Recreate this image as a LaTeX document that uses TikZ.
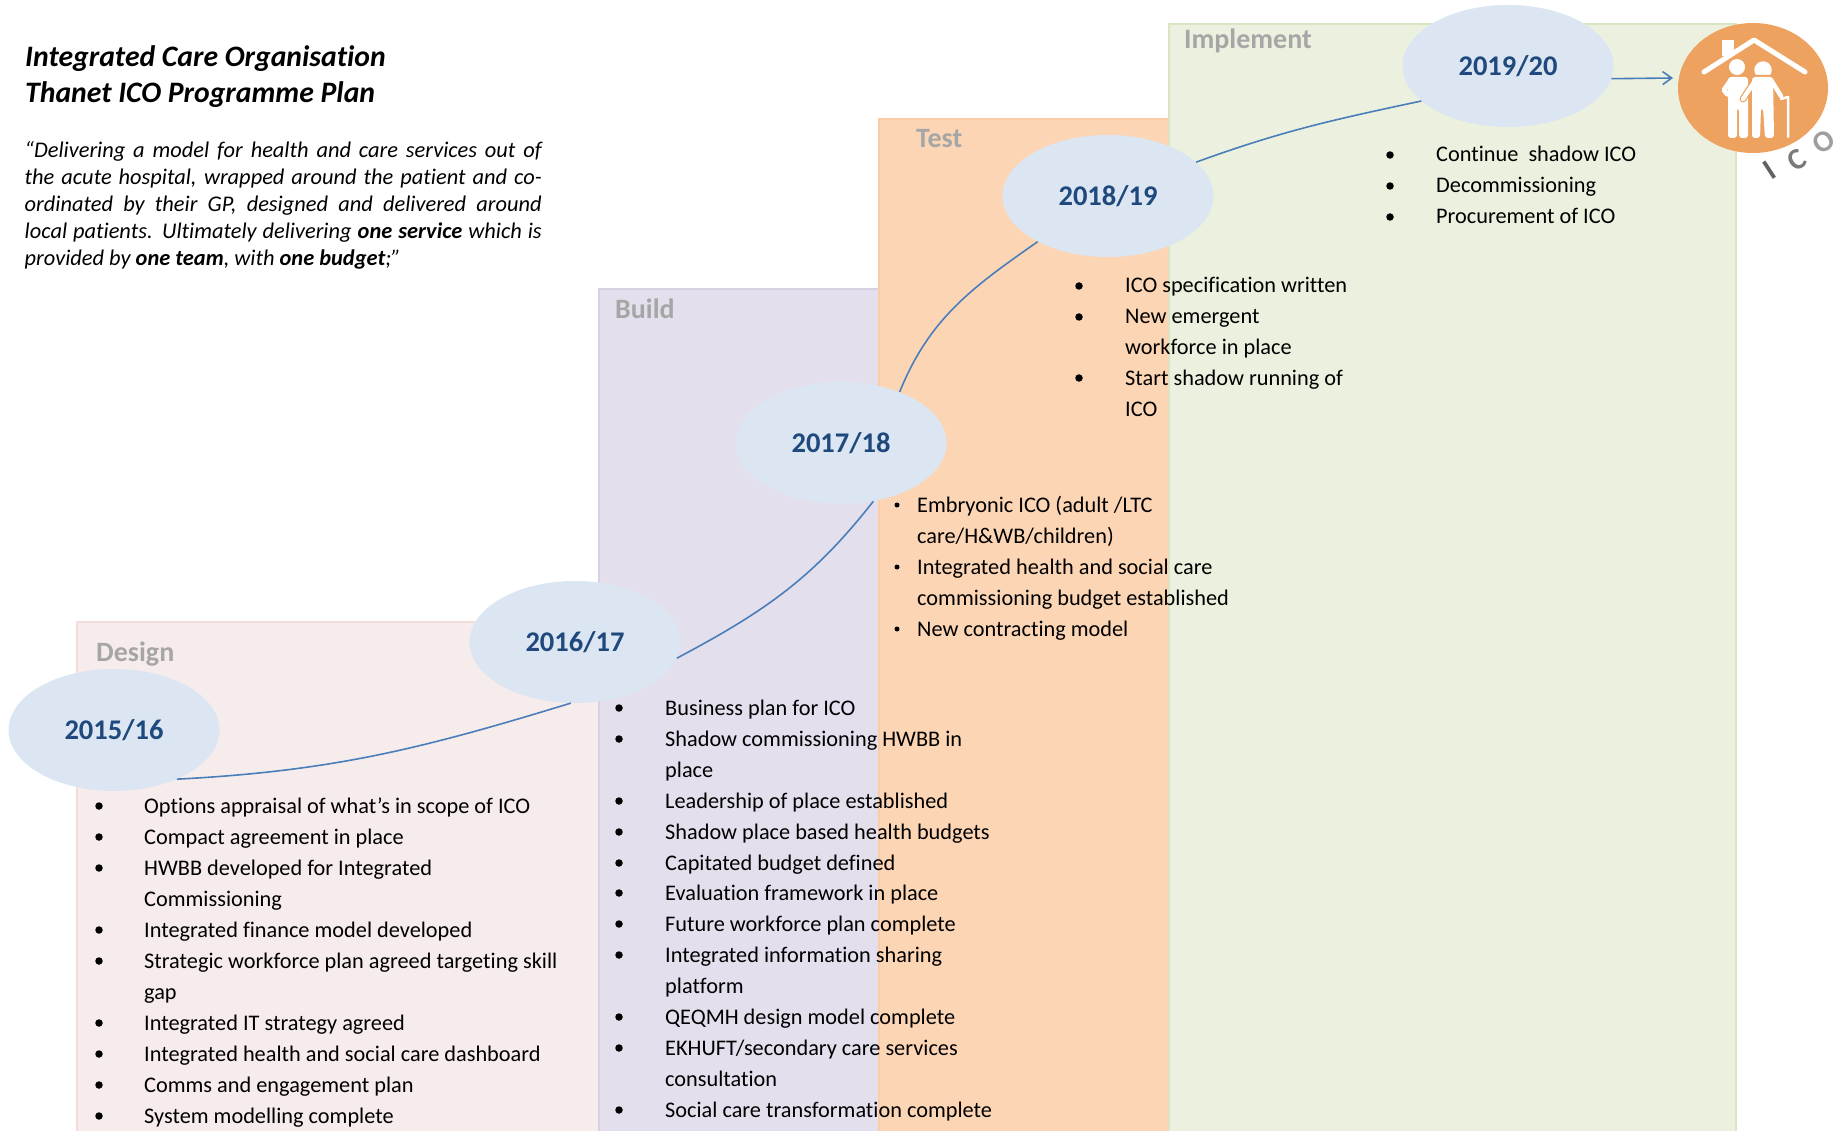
\documentclass[tikz,border=0pt]{standalone}
\usepackage{fontspec}
\setmainfont{Carlito}[Ligatures=CommonOff]
\usetikzlibrary{shapes.geometric,arrows.meta}
\definecolor{designfill}{HTML}{F6ECEB}\definecolor{designline}{HTML}{F2DDDB}
\definecolor{buildfill}{HTML}{E4DFEC}\definecolor{buildline}{HTML}{D8D0E3}
\definecolor{testfill}{HTML}{FCD5B5}\definecolor{testline}{HTML}{F9CDA8}
\definecolor{implfill}{HTML}{EBF1DE}\definecolor{implline}{HTML}{D9E6C3}
\definecolor{yearfill}{HTML}{DCE6F2}\definecolor{yeartext}{HTML}{1F497D}
\definecolor{conn}{HTML}{4A7EBB}\definecolor{icofill}{HTML}{EEA25F}
\definecolor{phase}{HTML}{A6A6A6}
\tikzset{
  x=1pt,y=-1pt,
  phasebox/.style={line width=2.5pt},
  phaselabel/.style={anchor=base west,inner sep=0,text=phase,font=\fontsize{28}{32}\selectfont\bfseries},
  year/.style={ellipse,fill=yearfill,minimum width=211pt,minimum height=122pt,inner sep=0,text=yeartext,font=\fontsize{28.5}{32}\selectfont\bfseries},
  link/.style={conn,line width=1.6pt},
  itemtext/.style={anchor=base west,inner sep=0,font=\fontsize{22.3}{26}\selectfont},
  bigdot/.style={circle,fill=black,inner sep=0,minimum size=7.5pt},
  smalldot/.style={circle,fill=black,inner sep=0,minimum size=5pt},
  icoletter/.style={inner sep=0,rotate=33,font=\fontsize{30}{34}\selectfont\bfseries},
  icon/.style={white,line cap=round,line join=round},
  iconcase/.style={icofill,line cap=round,line join=round},
}
% \bitem{name}{dotstyle}{dotx}{textx}{baseline}{text}
\newcommand{\bitem}[6]{\node[#2] (#1b) at (#3,#5-7) {};\node[itemtext] (#1) at (#4,#5) {#6};}
\newcommand{\citem}[3]{\node[itemtext] (#1) at (#2) {#3};}
\begin{document}
\begin{tikzpicture}
\useasboundingbox (0,0) rectangle (1839,1131);
\clip (0,0) rectangle (1839,1131);
\fill[white] (0,0) rectangle (1839,1131);
% phase boxes
\draw[phasebox,fill=designfill,draw=designline] (77,622) rectangle (599,1140);
\draw[phasebox,fill=buildfill,draw=buildline] (599,289) rectangle (879,1140);
\draw[phasebox,fill=testfill,draw=testline] (879,119) rectangle (1169,1140);
\draw[phasebox,fill=implfill,draw=implline] (1169,24) rectangle (1736,1140);
\node[phaselabel] (pd) at (96,661) {Design};
\node[phaselabel] (pb) at (615,319) {Build};
\node[phaselabel] (pt) at (916,148) {Test};
\node[phaselabel] (pi) at (1184,49) {Implement};
% title
\node[anchor=base west,inner sep=0,font=\fontsize{29.7}{36}\selectfont\bfseries\itshape] (t1) at (25,67) {Integrated Care Organisation};
\node[anchor=base west,inner sep=0,font=\fontsize{29.7}{36}\selectfont\bfseries\itshape] (t2) at (25,103) {Thanet ICO Programme Plan};
\node[anchor=north west,inner sep=0,align=left,font=\fontsize{22.4}{27}\selectfont\itshape] (quote) at (24.5,141) {%
\makebox[517pt][s]{“Delivering a model for health and care services out of}\\
\makebox[517pt][s]{the acute hospital, wrapped around the patient and co-}\\
\makebox[517pt][s]{ordinated by their GP, designed and delivered around}\\
\makebox[517pt][s]{local patients. Ultimately delivering \textbf{one service} which is}\\
provided by \textbf{one team}, with \textbf{one budget};”};
% years
\node[year] (e1) at (114,730) {\raisebox{-2pt}{2015/16}};
\node[year] (e2) at (575,642) {\raisebox{-2pt}{2016/17}};
\node[year] (e3) at (841,443) {\raisebox{-2pt}{2017/18}};
\node[year] (e4) at (1108,196) {\raisebox{-2pt}{2018/19}};
\node[year] (e5) at (1508,66) {\raisebox{-2pt}{2019/20}};
\node[ellipse,fill=icofill,minimum width=150pt,minimum height=130pt,inner sep=0] (ico) at (1753,88) {};
\coordinate (tip) at (1673,78);
% links
\draw[link] (e1.-38) to[out=3,in=197] (e2.-94);
\draw[link] (e2.-9) to[out=28,in=232] (e3.-61);
\draw[link] (e3.41) to[out=68,in=215] (e4.213);
\draw[link] (e4.21) to[out=20,in=192] (e5.202);
\draw[link,-{Straight Barb[length=9pt,width=13pt]}] (e5.-7) -- (tip);
% icon: roof and chimney
\draw[icon,line width=5pt] (1704,72) -- (1754,40) -- (1805,72);
\fill[white] (1722,40) rectangle (1734,56);
% left figure
\fill[white] (1737,67) circle (8);
\fill[white,rounded corners=3pt] (1728,77) -- (1748,77) -- (1748,138) -- (1739,138) -- (1739,108) -- (1737,108) -- (1737,138) -- (1728,138) -- cycle;
\draw[icon,line width=5pt] (1731,80) -- (1724,90) -- (1727,94) -- (1742,96);
% right figure
\fill[white] (1763,70) circle (8.7);
\draw[iconcase,line width=7pt] (1755,81) -- (1743,99);
\fill[iconcase,rounded corners=3pt] (1749,75) -- (1775,75) -- (1776,140) -- (1749,140) -- cycle;
\fill[white,rounded corners=3pt] (1752,77) -- (1773,77) -- (1774,138) -- (1765,138) -- (1763,108) -- (1761,108) -- (1760,138) -- (1752,138) -- cycle;
\draw[icon,line width=4.5pt] (1755,81) -- (1743,99);
\draw[icon,line width=4.5pt] (1771,80) -- (1781,96);
\draw[icon,line width=2.5pt] (1788,137) -- (1788,97) -- (1781,99);
% ICO letters
\node[icoletter,text=black!62] (ici) at (1770,170) {I};
\node[icoletter,text=black!52] (icc) at (1797,160) {C};
\node[icoletter,text=black!38] (ico3) at (1824,142) {O};
% Design list
\bitem{d1}{bigdot}{99}{144}{813}{Options appraisal of what’s in scope of ICO}
\bitem{d2}{bigdot}{99}{144}{844}{Compact agreement in place}
\bitem{d3}{bigdot}{99}{144}{875}{HWBB developed for Integrated}
\citem{d3c}{144,906}{Commissioning}
\bitem{d4}{bigdot}{99}{144}{937}{Integrated finance model developed}
\bitem{d5}{bigdot}{99}{144}{968}{Strategic workforce plan agreed targeting skill}
\citem{d5c}{144,999}{gap}
\bitem{d6}{bigdot}{99}{144}{1030}{Integrated IT strategy agreed}
\bitem{d7}{bigdot}{99}{144}{1061}{Integrated health and social care dashboard}
\bitem{d8}{bigdot}{99}{144}{1092}{Comms and engagement plan}
\bitem{d9}{bigdot}{99}{144}{1123}{System modelling complete}
% Build list
\bitem{b1}{bigdot}{619}{665}{715}{Business plan for ICO}
\bitem{b2}{bigdot}{619}{665}{746}{Shadow commissioning HWBB in}
\citem{b2c}{665,777}{place}
\bitem{b3}{bigdot}{619}{665}{808}{Leadership of place established}
\bitem{b4}{bigdot}{619}{665}{839}{Shadow place based health budgets}
\bitem{b5}{bigdot}{619}{665}{870}{Capitated budget defined}
\bitem{b6}{bigdot}{619}{665}{900}{Evaluation framework in place}
\bitem{b7}{bigdot}{619}{665}{931}{Future workforce plan complete}
\bitem{b8}{bigdot}{619}{665}{962}{Integrated information sharing}
\citem{b8c}{665,993}{platform}
\bitem{b9}{bigdot}{619}{665}{1024}{QEQMH design model complete}
\bitem{b10}{bigdot}{619}{665}{1055}{EKHUFT/secondary care services}
\citem{b10c}{665,1086}{consultation}
\bitem{b11}{bigdot}{619}{665}{1117}{Social care transformation complete}
% Test list
\bitem{c1}{smalldot}{897}{917}{512}{Embryonic ICO (adult /LTC}
\citem{c1c}{917,543}{care/H\&WB/children)}
\bitem{c2}{smalldot}{897}{917}{574}{Integrated health and social care}
\citem{c2c}{917,605}{commissioning budget established}
\bitem{c3}{smalldot}{897}{917}{636}{New contracting model}
% 2018/19 list
\bitem{f1}{bigdot}{1079}{1125}{293}{ICO specification written}
\bitem{f2}{bigdot}{1079}{1125}{324}{New emergent}
\citem{f2c}{1125,355}{workforce in place}
\bitem{f3}{bigdot}{1079}{1125}{385}{Start shadow running of}
\citem{f3c}{1125,416}{ICO}
% Implement list
\bitem{g1}{bigdot}{1390}{1436}{162}{Continue\ \ shadow ICO}
\bitem{g2}{bigdot}{1390}{1436}{193}{Decommissioning}
\bitem{g3}{bigdot}{1390}{1436}{224}{Procurement of ICO}
\end{tikzpicture}
\end{document}
